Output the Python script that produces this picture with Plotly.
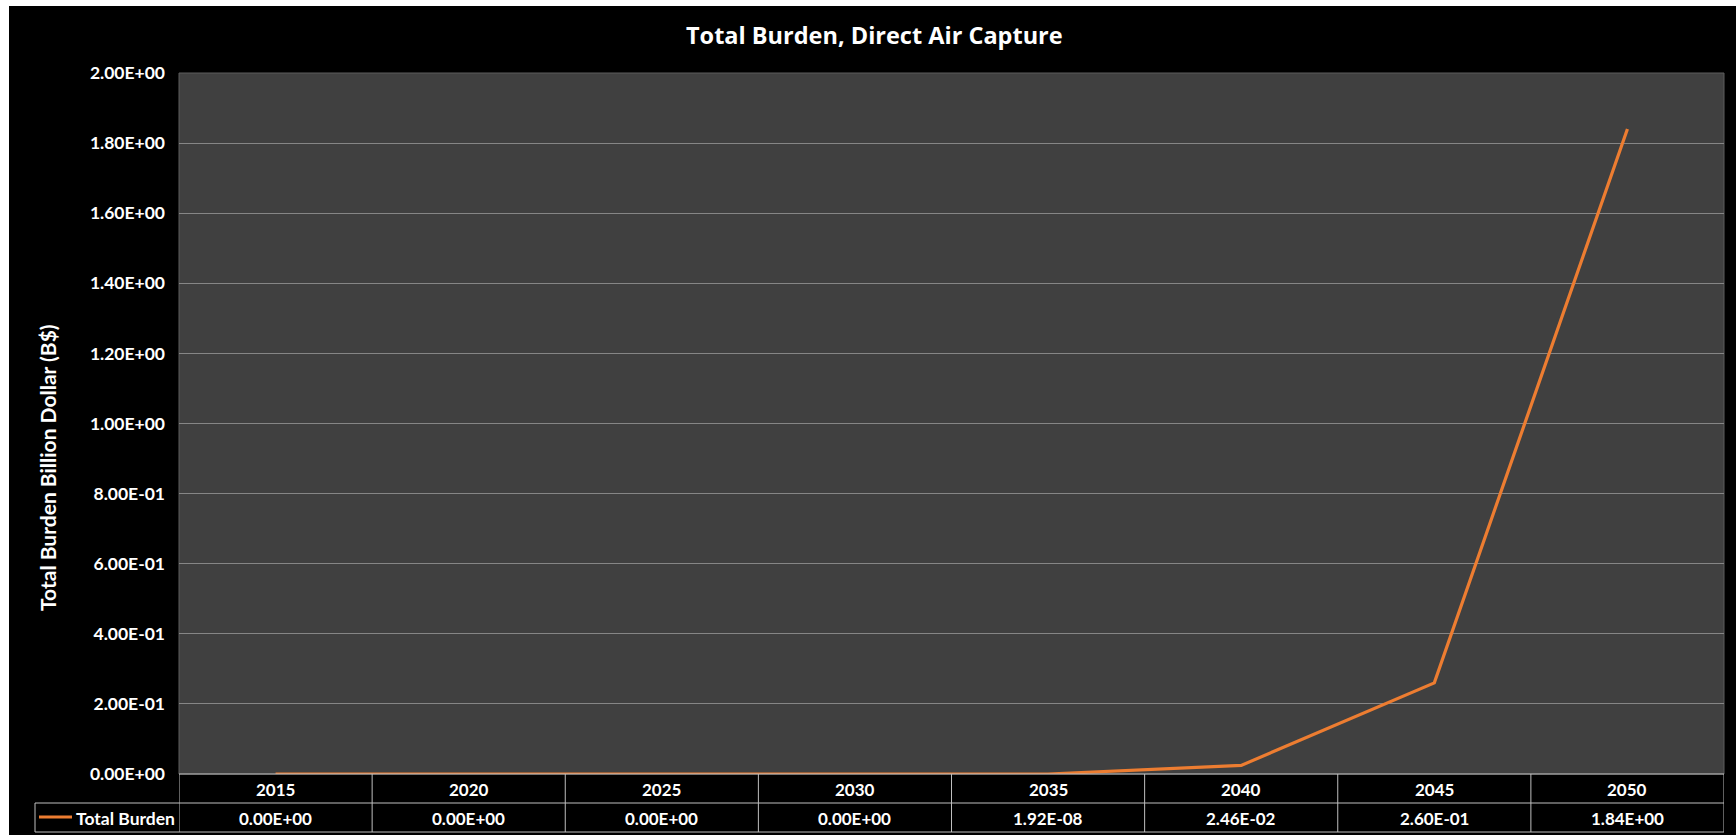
import plotly.graph_objects as go

# ---- data ----
years = ["2015", "2020", "2025", "2030", "2035", "2040", "2045", "2050"]
total_burden = [0.0, 0.0, 0.0, 0.0, 1.92e-08, 2.46e-02, 2.60e-01, 1.84e+00]
y_tick_values = [0.0, 0.2, 0.4, 0.6, 0.8, 1.0, 1.2, 1.4, 1.6, 1.8, 2.0]
y_tick_labels = ["0.00E+00", "2.00E-01", "4.00E-01", "6.00E-01", "8.00E-01", "1.00E+00",
                 "1.20E+00", "1.40E+00", "1.60E+00", "1.80E+00", "2.00E+00"]
series_name = "Total Burden"
chart_title = "Total Burden, Direct Air Capture"
y_title = "Total Burden Billion Dollar (B$)"

# ---- layout geometry (pixels) ----
W, H = 1736, 835
L, R, T, B = 179, 1724, 73, 774
PW, PH = R - L, B - T

ORANGE = "#ED7D31"
GRID = "#868686"
TABLE_LINE = "#bfbfbf"
FONT = "Lato"
TITLE_FONT = "Open Sans"


def fx(p):
    return (p - L) / PW


def fy(p):
    return (B - p) / PH


fig = go.Figure()
fig.add_trace(go.Scatter(
    x=years, y=total_burden, mode="lines", name=series_name,
    line=dict(color=ORANGE, width=3.2), showlegend=False,
))

shapes = []
# white strips framing the black chart area
shapes.append(dict(type="rect", xref="paper", yref="paper", x0=fx(0), x1=fx(W), y0=fy(0), y1=fy(6),
                   fillcolor="white", line=dict(width=0), layer="above"))
shapes.append(dict(type="rect", xref="paper", yref="paper", x0=fx(0), x1=fx(9), y0=fy(0), y1=fy(H),
                   fillcolor="white", line=dict(width=0), layer="above"))
# plot border
shapes.append(dict(type="rect", xref="paper", yref="paper", x0=0, x1=1, y0=0, y1=1,
                   line=dict(color="#5c5c5c", width=1), layer="below"))

# data table grid
row_mid, row_bot = 803, 832
for yy in (row_mid, row_bot):
    shapes.append(dict(type="line", xref="paper", yref="paper", x0=fx(35), x1=1, y0=fy(yy), y1=fy(yy),
                       line=dict(color=TABLE_LINE, width=1)))
shapes.append(dict(type="line", xref="paper", yref="paper", x0=fx(35), x1=fx(35), y0=fy(row_mid), y1=fy(row_bot),
                   line=dict(color=TABLE_LINE, width=1)))
for i in range(len(years) + 1):
    shapes.append(dict(type="line", xref="x", yref="paper", x0=i - 0.5, x1=i - 0.5, y0=0, y1=fy(row_bot),
                       line=dict(color=TABLE_LINE, width=1)))
shapes.append(dict(type="line", xref="paper", yref="paper", x0=0, x1=1, y0=0, y1=0,
                   line=dict(color=TABLE_LINE, width=1)))
# legend key in the table
shapes.append(dict(type="line", xref="paper", yref="paper", x0=fx(39), x1=fx(72), y0=fy(817), y1=fy(817),
                   line=dict(color=ORANGE, width=3.2)))

annotations = []
annotations.append(dict(text=f"<b>{chart_title}</b>", xref="paper", yref="paper", x=fx(874), y=fy(35),
                        xanchor="center", yanchor="middle", showarrow=False,
                        font=dict(family=TITLE_FONT, size=23.5, color="white")))
annotations.append(dict(text=f"<b>{y_title}</b>", xref="paper", yref="paper", x=fx(47), y=fy(468),
                        xanchor="center", yanchor="middle", showarrow=False, textangle=-90,
                        font=dict(family=FONT, size=21, color="white")))
for i, (yr, v) in enumerate(zip(years, total_burden)):
    annotations.append(dict(text=f"<b>{yr}</b>", xref="x", yref="paper", x=i, y=fy(789),
                            xanchor="center", yanchor="middle", showarrow=False,
                            font=dict(family=FONT, size=17, color="white")))
    annotations.append(dict(text=f"<b>{v:.2E}</b>", xref="x", yref="paper", x=i, y=fy(818),
                            xanchor="center", yanchor="middle", showarrow=False,
                            font=dict(family=FONT, size=17, color="white")))
annotations.append(dict(text=f"<b>{series_name}</b>", xref="paper", yref="paper", x=fx(74), y=fy(818),
                        xanchor="left", yanchor="middle", showarrow=False,
                        font=dict(family=FONT, size=17.5, color="white")))

fig.update_layout(
    width=W, height=H, autosize=False,
    margin=dict(l=L, r=W - R, t=T, b=H - B, pad=0),
    paper_bgcolor="black", plot_bgcolor="#404040",
    showlegend=False,
    shapes=shapes, annotations=annotations,
    xaxis=dict(type="category", categoryorder="array", categoryarray=years,
               range=[-0.5, len(years) - 0.5], showticklabels=False, showgrid=False,
               zeroline=False, showline=False, fixedrange=True),
    yaxis=dict(range=[0, 2.0], tickvals=y_tick_values, ticktext=[f"<b>{t}</b>" for t in y_tick_labels],
               showgrid=True, gridcolor=GRID, gridwidth=1, zeroline=False, showline=False,
               ticks="", ticklabelstandoff=13,
               tickfont=dict(family=FONT, size=17.5, color="white"), fixedrange=True),
)

fig.write_html("out.html")
